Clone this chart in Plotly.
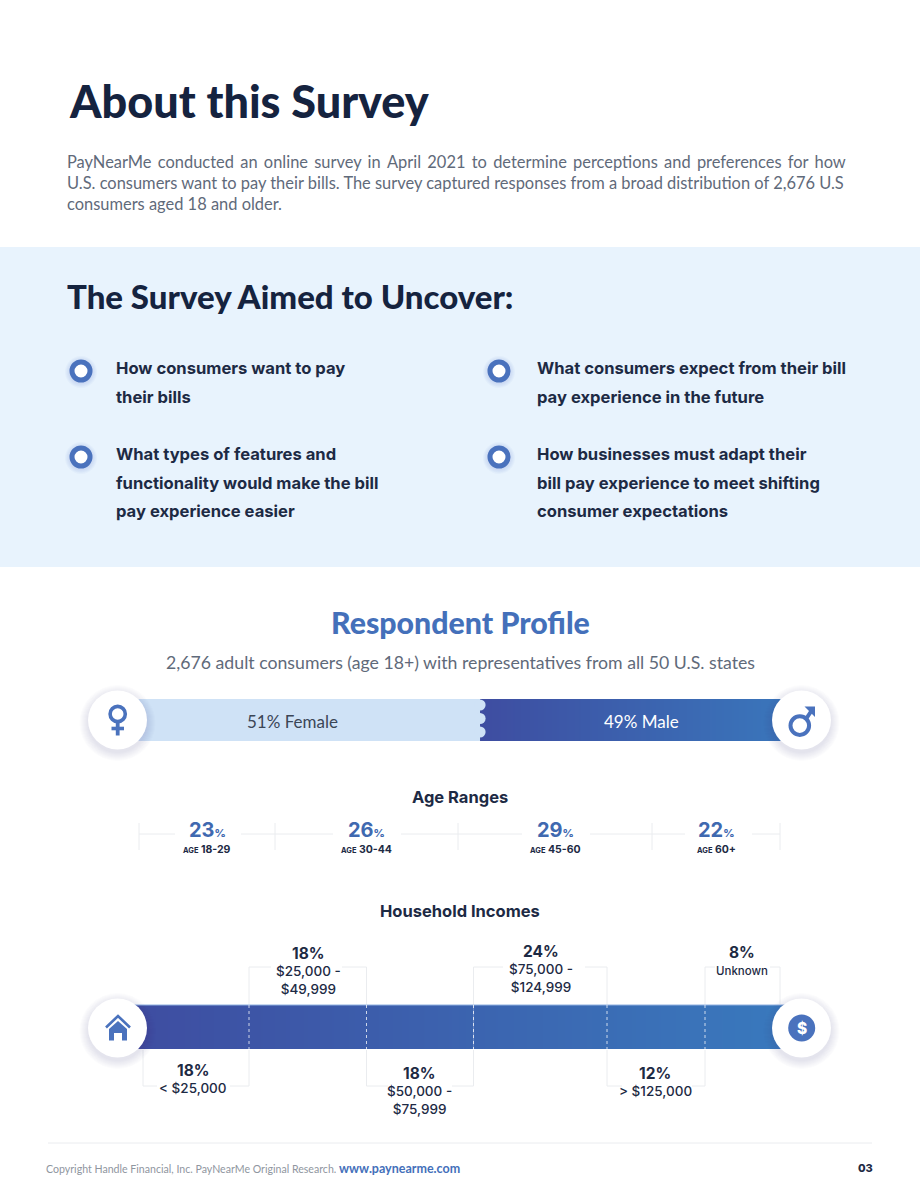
import numpy as np
import plotly.graph_objects as go

# ---------- data ----------
gender_labels = ["Female", "Male"]
gender_shares = [51, 49]
age_labels = ["18-29", "30-44", "45-60", "60+"]
age_shares = [23, 26, 29, 22]
income_labels = ["< $25,000", "$25,000 -<br>$49,999", "$50,000 -<br>$75,999",
                 "$75,000 -<br>$124,999", "> $125,000", "Unknown"]
income_shares = [18, 18, 18, 24, 12, 8]

title = "About this Survey"
intro_lines = [
    "PayNearMe conducted an online survey in April 2021 to determine perceptions and preferences for how",
    "U.S. consumers want to pay their bills. The survey captured responses from a broad distribution of 2,676 U.S",
    "consumers aged 18 and older.",
]
aim_title = "The Survey Aimed to Uncover:"
aim_items = [
    ["How consumers want to pay", "their bills"],
    ["What types of features and", "functionality would make the bill", "pay experience easier"],
    ["What consumers expect from their bill", "pay experience in the future"],
    ["How businesses must adapt their", "bill pay experience to meet shifting", "consumer expectations"],
]
profile_title = "Respondent Profile"
profile_sub = "2,676 adult consumers (age 18+) with representatives from all 50 U.S. states"
footer_text = "Copyright Handle Financial, Inc. PayNearMe Original Research."
footer_url = "www.paynearme.com"
page_no = "03"

# ---------- layout constants (pixels of the page) ----------
W, H = 920, 1191
INK, BLUE, RING = "#15233f", "#4470ba", "#4a72bd"
GREY = "#5f6a7a"
LINE = "#eaecef"
SANS, HEAD, DISPLAY = "Lato", "Inter", "Lato"
GRAD = [[0, "#3e4da1"], [1, "#3979bd"]]
G_BAR = (135, 811.5, 699, 741)
INC_Y = (1005, 1049)
INC_EDGES = [139, 249, 366.5, 473.5, 607, 705, 780]
INC_BAR_ENDS = (133, 788)
AGE_EDGES = [139, 275, 458, 652, 780]

fig = go.Figure()
shapes, notes = [], []


def text(s, x, y, size, color=INK, weight=400, family=SANS, anchor="left"):
    notes.append(dict(text=s, x=x, y=y, xref="x", yref="y", showarrow=False,
                      xanchor=anchor, yanchor="middle", align="center" if anchor == "center" else anchor,
                      font=dict(size=size, color=color, family=family, weight=weight), borderpad=0, borderwidth=0))


def line(x0, y0, x1, y1, color=LINE, width=1, dash=None, layer="above"):
    shapes.append(dict(type="line", xref="x", yref="y", x0=x0, y0=y0, x1=x1, y1=y1, layer=layer,
                       line=dict(color=color, width=width, dash=dash)))


def disc(cx, cy, r, fill, stroke=None, sw=0, layer="above"):
    shapes.append(dict(type="circle", xref="x", yref="y", x0=cx - r, x1=cx + r, y0=cy - r, y1=cy + r,
                       layer=layer, fillcolor=fill, line=dict(color=stroke or fill, width=sw)))


def path(d, fill="rgba(0,0,0,0)", stroke=None, sw=0):
    shapes.append(dict(type="path", xref="x", yref="y", path=d, layer="above", fillcolor=fill,
                       line=dict(color=stroke or "rgba(0,0,0,0)", width=sw)))


def badge(cx, cy):
    for k in range(9):
        disc(cx, cy + 3, 38 - k, "rgba(50,60,100,0.014)")
    disc(cx, cy, 29.5, "#ffffff")


def hairs(s, n):
    """widen the word gaps by n hair spaces, to justify a line"""
    return s.replace(" ", " " + "\u200a" * n)


# band behind the aims
shapes.append(dict(type="rect", xref="x", yref="y", x0=0, x1=W, y0=247, y1=567, layer="below",
                   fillcolor="#e8f3fd", line=dict(width=0)))

# --- header text
text(title, 69, 101, 45, INK, 900, DISPLAY)
for s, y, n in zip(intro_lines, [162, 183, 204], [2, 0, 0]):
    text(hairs(s, n), 67, y, 16.45, GREY)
text(aim_title, 67, 296, 33, INK, 900, DISPLAY)

# --- aims
for (items, bx, tx, by) in zip(aim_items, [81, 81, 499, 499], [116, 116, 537, 537], [371, 457, 371, 457]):
    for k in range(5):
        disc(bx, by + 1, 16 - k, "rgba(70,100,190,0.03)")
    disc(bx, by, 9, "#ffffff", RING, 5)
    for i, s in enumerate(items):
        text(s, tx, by - 3 + i * 28.5, 16.6, "#1d2a44", 700, HEAD)

# --- respondent profile
text(profile_title, 460, 622, 30.3, BLUE, 900, DISPLAY, "center")
text(profile_sub, 460, 662, 17.7, GREY, 400, SANS, "center")

# gender bar: real 0-100 axis
fig.add_trace(go.Bar(x=[gender_shares[0]], y=[0.5], width=[1], orientation="h", xaxis="x2", yaxis="y2",
                     marker=dict(color="#cfe2f6", line=dict(width=0)), hoverinfo="skip", showlegend=False))
fig.add_trace(go.Heatmap(x=np.linspace(gender_shares[0], 100, 161), y=[0, 1],
                         z=[np.linspace(0, 1, 160)], xaxis="x2", yaxis="y2", colorscale=GRAD, zmin=0, zmax=1,
                         showscale=False, hoverinfo="skip"))
for cy in [705, 718.5, 732]:
    disc(480, cy, 5.6, "#cfe2f6")

text(f"{gender_shares[0]}% {gender_labels[0]}", 292, 721, 17, "#3b4656", 400, SANS, "center")
text(f"{gender_shares[1]}% {gender_labels[1]}", 641, 721, 17, "#ffffff", 400, SANS, "center")

badge(117.5, 720)
badge(801.5, 720)
# female sign
disc(117.7, 714, 7.6, "rgba(0,0,0,0)", RING, 3.6)
line(117.7, 722, 117.7, 735.5, RING, 3.8)
line(111.5, 728.5, 124, 728.5, RING, 3.6)
# male sign
disc(799.8, 725.6, 9.3, "rgba(0,0,0,0)", RING, 4)
line(806, 719, 812, 710, RING, 4)
path("M 804.5 706.5 L 815 706.5 L 815 717 Z", RING)

# --- age ranges
text("Age Ranges", 460, 797, 16.5, "#1d2a44", 700, HEAD, "center")
gaps = [(175, 241), (333, 401), (522, 590), (685, 752)]
for e in AGE_EDGES:
    line(e, 823, e, 850, LINE, 1)
for i, (a, b) in enumerate(zip(AGE_EDGES[:-1], AGE_EDGES[1:])):
    g0, g1 = gaps[i]
    line(a, 834, g0, 834, LINE, 1)
    line(g1, 834, b, 834, LINE, 1)
    c = (a + b) / 2
    text(f"<b>{age_shares[i]}</b><span style='font-size:11px'>%</span>", c, 830, 20, "#3f69b0", 800, HEAD, "center")
    text(f"<span style='font-size:7.5px'>AGE</span> {age_labels[i]}", c, 849, 10.5, "#1d2a44", 700, HEAD, "center")

# --- household incomes
text("Household Incomes", 460, 911, 16.5, "#1d2a44", 700, HEAD, "center")
span = INC_BAR_ENDS[1] - INC_BAR_ENDS[0]
seg_edges = [INC_BAR_ENDS[0]] + INC_EDGES[1:-1] + [INC_BAR_ENDS[1]]
for a, b in zip(seg_edges[:-1], seg_edges[1:]):
    t0, t1 = (a - INC_BAR_ENDS[0]) / span, (b - INC_BAR_ENDS[0]) / span
    fig.add_trace(go.Heatmap(x=np.linspace(a, b, 61), y=list(INC_Y), z=[np.linspace(t0, t1, 60)],
                             colorscale=GRAD, zmin=0, zmax=1, showscale=False, hoverinfo="skip"))
line(INC_BAR_ENDS[0], INC_Y[0], INC_BAR_ENDS[1], INC_Y[0], "#8fb0e0", 1)
for e in INC_EDGES[1:-1]:
    line(e, INC_Y[0], e, INC_Y[1], "rgba(255,255,255,0.75)", 1, "dot")

inc_text_x = [193, 308, 419, 541, 655, 742]
inc_pct_y = [1070, 953, 1073, 951, 1073, 952]
inc_left_stub = [157, 271, 388, 503, 622, 715]
inc_right_stub = [230, 342, 452, 585, 692, 770]
for i, (a, b) in enumerate(zip(INC_EDGES[:-1], INC_EDGES[1:])):
    top = i % 2 == 1
    yb = 967 if top else 1086
    y_anchor = INC_Y[0] - 1 if top else INC_Y[1] + 1
    left = 143 if i == 0 else a
    line(left, y_anchor, left, yb)
    line(b, y_anchor, b, yb)
    line(left, yb, inc_left_stub[i], yb)
    line(inc_right_stub[i], yb, b, yb)
    text(f"{income_shares[i]}%", inc_text_x[i], inc_pct_y[i], 15.5, "#1d2a44", 700, HEAD, "center")
    lbl = income_labels[i]
    lbl_size = 11.5 if lbl == "Unknown" else 13.5
    nudge = 1 if lbl == "Unknown" else 0
    nlines = lbl.count("<br>") + 1
    text(lbl, inc_text_x[i], inc_pct_y[i] + 18 + nudge + (nlines - 1) * 9, lbl_size, "#1d2a44", 500, HEAD, "center")

badge(117.5, 1028)
badge(801.5, 1028)
# house
path("M 106 1027.5 L 118 1016 L 130 1027.5", "rgba(0,0,0,0)", RING, 2.6)
path("M 109 1029 L 118 1021 L 127 1029 L 127 1040.5 L 122 1040.5 L 122 1033 L 114 1033 L 114 1040.5 L 109 1040.5 Z", RING)
# dollar
disc(801.7, 1028, 13.5, RING)
text("$", 801.7, 1028.5, 15.5, "#ffffff", 800, HEAD, "center")

# --- footer
line(48, 1143, 872, 1143, LINE, 1)
text(f"{footer_text} <span style='color:{BLUE};font-size:12.5px'><b>{footer_url}</b></span>",
     46, 1168, 10.6, "#8f96a0", 400, SANS)
text(page_no, 873, 1168, 11, "#1d2a44", 800, HEAD, "right")

ax_off = dict(visible=False, showgrid=False, zeroline=False, fixedrange=True)
fig.update_layout(
    width=W, height=H, margin=dict(l=0, r=0, t=0, b=0), autosize=False,
    paper_bgcolor="#ffffff", plot_bgcolor="rgba(0,0,0,0)", showlegend=False, barmode="overlay",
    xaxis=dict(range=[0, W], domain=[0, 1], **ax_off),
    yaxis=dict(range=[H, 0], domain=[0, 1], **ax_off),
    xaxis2=dict(range=[0, 100], domain=[G_BAR[0] / W, G_BAR[1] / W], anchor="y2", **ax_off),
    yaxis2=dict(range=[0, 1], domain=[1 - G_BAR[3] / H, 1 - G_BAR[2] / H], anchor="x2", **ax_off),
    shapes=shapes, annotations=notes,
)
fig.write_html("out.html", config=dict(displayModeBar=False),
               post_script="document.body.style.margin='0';document.documentElement.style.overflow='hidden';")
